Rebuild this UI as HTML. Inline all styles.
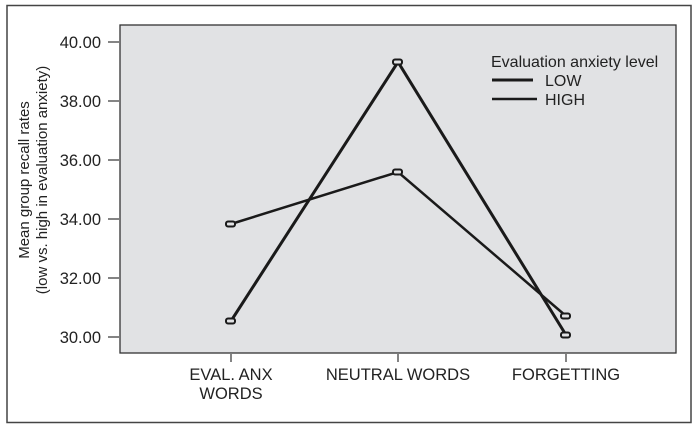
<!DOCTYPE html>
<html><head><style>
body{margin:0;background:#fff;}
svg text{font-family:"Liberation Sans",Arial,sans-serif;fill:#222;}
</style></head><body>
<svg width="700" height="433" viewBox="0 0 700 433">
<rect x="7" y="5.5" width="684" height="417" fill="#fff" stroke="#444" stroke-width="1.5"/>
<rect x="120" y="25" width="556" height="328" fill="#e1e2e4" stroke="#333" stroke-width="1.3"/>
<g stroke="#333" stroke-width="1.2">
<line x1="108" y1="42" x2="119" y2="42"/>
<line x1="108" y1="101" x2="119" y2="101"/>
<line x1="108" y1="160" x2="119" y2="160"/>
<line x1="108" y1="219" x2="119" y2="219"/>
<line x1="108" y1="278" x2="119" y2="278"/>
<line x1="108" y1="337" x2="119" y2="337"/>
<line x1="231" y1="354" x2="231" y2="362"/>
<line x1="398" y1="354" x2="398" y2="362"/>
<line x1="566" y1="354" x2="566" y2="362"/>
</g>
<g font-size="16.5" text-anchor="end">
<text x="101" y="48">40.00</text>
<text x="101" y="107">38.00</text>
<text x="101" y="166">36.00</text>
<text x="101" y="225">34.00</text>
<text x="101" y="284">32.00</text>
<text x="101" y="343">30.00</text>
</g>
<g font-size="15" text-anchor="middle">
<text transform="translate(29,180) rotate(-90)">Mean group recall rates</text>
<text transform="translate(47,180) rotate(-90)">(low vs. high in evaluation anxiety)</text>
</g>
<g font-size="16.5" text-anchor="middle">
<text x="231" y="380">EVAL. ANX</text>
<text x="231" y="399">WORDS</text>
<text x="398" y="380">NEUTRAL WORDS</text>
<text x="566" y="380">FORGETTING</text>
</g>
<g stroke="#1a1a1a" stroke-width="3" fill="none">
<polyline points="231,321 398,62 566,335"/>
<polyline points="231,224 398,172 566,316" stroke-width="2.5"/>
</g>
<g stroke="#1a1a1a" stroke-width="2" fill="#e1e2e4">
<rect x="226" y="318.5" width="9" height="5" rx="2"/>
<rect x="393" y="59.5" width="9" height="5" rx="2"/>
<rect x="561" y="332.5" width="9" height="5" rx="2"/>
<rect x="226" y="221.5" width="9" height="5" rx="2"/>
<rect x="393" y="169.5" width="9" height="5" rx="2"/>
<rect x="561" y="313.5" width="9" height="5" rx="2"/>
</g>
<text x="491" y="67" font-size="16">Evaluation anxiety level</text>
<line x1="492" y1="80" x2="533" y2="80" stroke="#1a1a1a" stroke-width="3"/>
<line x1="492" y1="99" x2="537" y2="99" stroke="#1a1a1a" stroke-width="2.5"/>
<text x="545" y="86" font-size="16">LOW</text>
<text x="545" y="105" font-size="16">HIGH</text>
</svg>
</body></html>
